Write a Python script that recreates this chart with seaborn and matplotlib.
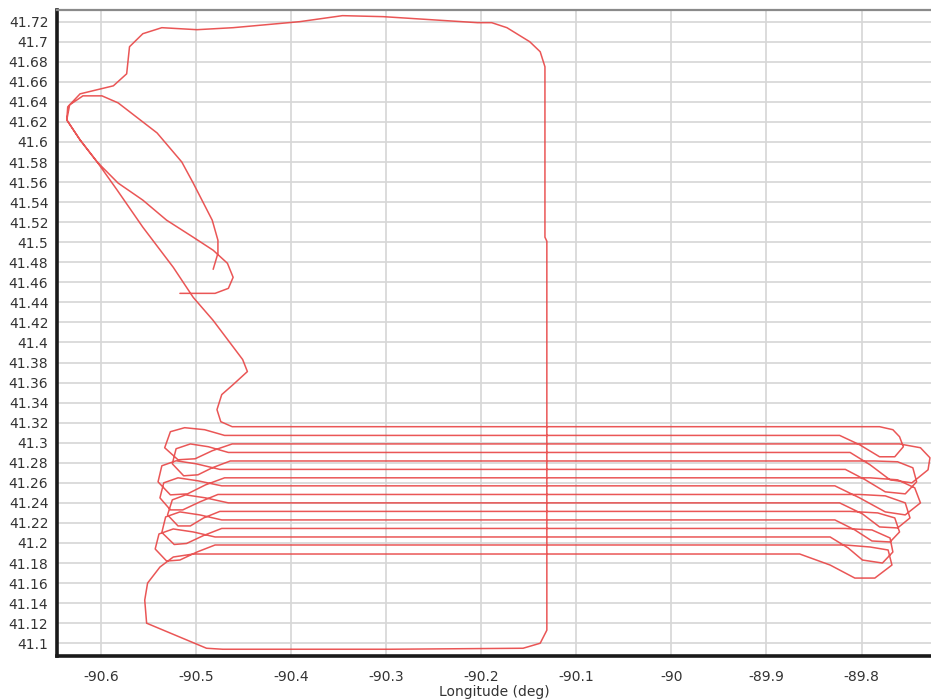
import matplotlib
matplotlib.use("Agg")
import matplotlib.pyplot as plt
import pandas as pd
import seaborn as sns
from matplotlib.ticker import MultipleLocator, FuncFormatter

# ---- flight track (degrees) ----
north_lon = [-90.517, -90.480, -90.466, -90.461, -90.467, -90.482, -90.503, -90.531,
             -90.556, -90.582, -90.604, -90.622, -90.636, -90.635, -90.622, -90.587,
             -90.573, -90.570, -90.556, -90.536, -90.499, -90.461, -90.391, -90.346,
             -90.303, -90.204, -90.189, -90.173, -90.149, -90.138, -90.133, -90.133,
             -90.131, -90.131, -90.138, -90.156, -90.296, -90.472, -90.489, -90.552,
             -90.554, -90.551, -90.538, -90.524, -90.503]
north_lat = [41.449, 41.449, 41.454, 41.465, 41.479, 41.492, 41.505, 41.522,
             41.542, 41.559, 41.580, 41.602, 41.622, 41.635, 41.648, 41.656,
             41.668, 41.695, 41.708, 41.714, 41.712, 41.714, 41.720, 41.726,
             41.725, 41.719, 41.719, 41.714, 41.700, 41.690, 41.675, 41.505,
             41.501, 41.113, 41.100, 41.095, 41.094, 41.094, 41.095, 41.120,
             41.143, 41.160, 41.176, 41.186, 41.189]

survey_lon = [
    -89.865, -89.833, -89.807, -89.786, -89.768, -89.772, -89.791, -89.817,
    -90.480, -90.499, -90.517, -90.531, -90.543, -90.539, -90.524, -90.503, -90.480,
    -89.833, -89.814, -89.799, -89.778, -89.767, -89.770, -89.789, -89.817,
    -90.473, -90.492, -90.510, -90.523, -90.536, -90.532, -90.517, -90.496, -90.473,
    -89.828, -89.807, -89.789, -89.770, -89.760, -89.765, -89.783, -89.812,
    -90.475, -90.492, -90.506, -90.519, -90.530, -90.525, -90.511, -90.490, -90.466,
    -89.823, -89.799, -89.781, -89.762, -89.749, -89.754, -89.775, -89.802,
    -90.477, -90.496, -90.514, -90.527, -90.538, -90.534, -90.519, -90.498, -90.473,
    -89.828, -89.802, -89.775, -89.754, -89.738, -89.744, -89.762, -89.791,
    -90.470, -90.490, -90.509, -90.527, -90.540, -90.536, -90.521, -90.500, -90.475,
    -89.817, -89.796, -89.775, -89.754, -89.742, -89.746, -89.762, -89.786,
    -90.464, -90.483, -90.498, -90.513, -90.525, -90.521, -90.506, -90.487, -90.466,
    -89.812, -89.791, -89.770, -89.747, -89.730, -89.728, -89.738, -89.760,
    -90.462, -90.483, -90.501, -90.519, -90.533, -90.527, -90.512, -90.491, -90.470,
    -89.823, -89.802, -89.781, -89.765, -89.756, -89.760, -89.767, -89.781]
survey_lat = [
    41.189, 41.178, 41.165, 41.165, 41.178, 41.193, 41.196, 41.198,
    41.198, 41.191, 41.183, 41.182, 41.194, 41.209, 41.214, 41.211, 41.206,
    41.206, 41.195, 41.183, 41.180, 41.191, 41.205, 41.213, 41.2145,
    41.2145, 41.2075, 41.1995, 41.1985, 41.2105, 41.226, 41.231, 41.228, 41.223,
    41.223, 41.213, 41.202, 41.201, 41.211, 41.225, 41.230, 41.2315,
    41.2315, 41.225, 41.217, 41.217, 41.228, 41.243, 41.248, 41.245, 41.240,
    41.240, 41.229, 41.216, 41.215, 41.225, 41.240, 41.247, 41.2484,
    41.2484, 41.241, 41.233, 41.233, 41.245, 41.260, 41.265, 41.262, 41.257,
    41.257, 41.245, 41.231, 41.228, 41.240, 41.255, 41.263, 41.265,
    41.265, 41.258, 41.249, 41.248, 41.261, 41.277, 41.282, 41.279, 41.2734,
    41.2734, 41.263, 41.251, 41.249, 41.261, 41.275, 41.281, 41.2818,
    41.2818, 41.275, 41.268, 41.267, 41.279, 41.294, 41.2988, 41.296, 41.2903,
    41.2903, 41.278, 41.263, 41.260, 41.273, 41.285, 41.295, 41.2988,
    41.2988, 41.292, 41.284, 41.283, 41.295, 41.311, 41.315, 41.313, 41.3073,
    41.3073, 41.298, 41.286, 41.286, 41.296, 41.306, 41.313, 41.316]

return_lon = [-90.462, -90.474, -90.478, -90.473, -90.461, -90.446, -90.451, -90.482,
              -90.503, -90.524, -90.556, -90.583, -90.604, -90.622, -90.636, -90.633,
              -90.619, -90.599, -90.582, -90.541, -90.515, -90.503, -90.483, -90.477,
              -90.477, -90.482]
return_lat = [41.316, 41.321, 41.333, 41.348, 41.358, 41.371, 41.383, 41.422,
              41.445, 41.475, 41.515, 41.552, 41.580, 41.602, 41.622, 41.637,
              41.646, 41.646, 41.639, 41.609, 41.580, 41.559, 41.522, 41.502,
              41.489, 41.473]

x_label = "Longitude (deg)"

# ---- figure ----
sns.set_style("white")
plt.rcParams['font.family'] = ['DejaVu Sans']

fig = plt.figure(figsize=(9.31, 7.0), dpi=100)
ax = fig.add_axes([0.0609, 0.0629, 0.9391, 0.9229])

lon = north_lon + survey_lon + return_lon
lat = north_lat + survey_lat + return_lat
df = pd.DataFrame({"lon": lon, "lat": lat})

sns.lineplot(data=df, x="lon", y="lat", sort=False, estimator=None,
             color="#e84444", linewidth=1.1, alpha=0.9, ax=ax, zorder=3)

ax.set_xlim(-90.6466, -89.7269)
ax.set_ylim(41.0873, 41.7317)

ax.xaxis.set_major_locator(MultipleLocator(0.1))
ax.xaxis.set_minor_locator(MultipleLocator(0.02))
ax.yaxis.set_major_locator(MultipleLocator(0.02))
ax.yaxis.set_minor_locator(MultipleLocator(0.004))
ax.xaxis.set_major_formatter(FuncFormatter(lambda v, p: f"{v:.1f}".rstrip("0").rstrip(".")))
ax.yaxis.set_major_formatter(FuncFormatter(lambda v, p: f"{v:.2f}".rstrip("0").rstrip(".")))

ax.grid(True, which="major", color="#d6d6d6", linewidth=1.2, zorder=0)
ax.set_axisbelow(True)

for s in ["left", "bottom"]:
    ax.spines[s].set_color("#1a1a1a")
    ax.spines[s].set_linewidth(2.6)
ax.spines["top"].set_color("#8a8a8a")
ax.spines["top"].set_linewidth(1.6)
ax.spines["right"].set_visible(False)

ax.tick_params(axis="both", which="major", direction="out", length=4, width=1,
               color="#333333", labelsize=10, labelcolor="#333333", pad=3)
ax.tick_params(axis="both", which="minor", direction="out", length=2.5, width=0.8,
               color="#555555")
ax.tick_params(axis="y", which="major", pad=2)
ax.tick_params(axis="x", which="major", pad=6)

ax.set_xlabel(x_label, fontsize=10, color="#333333", labelpad=1)
ax.set_ylabel("")

fig.savefig("out.png", dpi=100)
